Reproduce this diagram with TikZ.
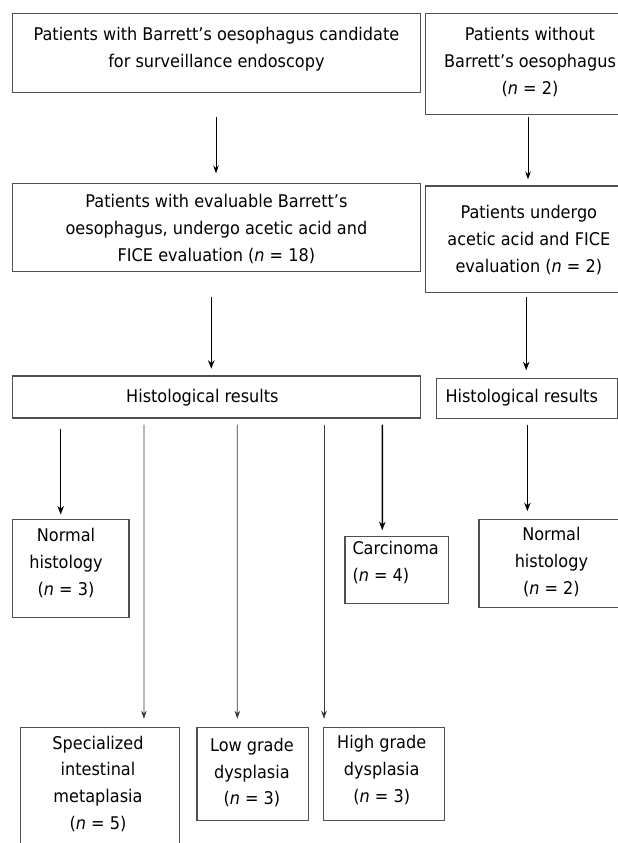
\documentclass[tikz,border=0pt]{standalone}
\usepackage{fontspec}
\setmainfont{DejaVu Sans}[FakeStretch=0.92]
\usetikzlibrary{arrows.meta,calc}
\definecolor{boxgray}{HTML}{505050}
\definecolor{linegray}{HTML}{383838}
\newcommand{\ctab}[1]{\begin{tabular}{@{}c@{}}#1\end{tabular}}
\newcommand{\ltab}[1]{\begin{tabular}{@{}l@{}}#1\end{tabular}}
\begin{document}
\begin{tikzpicture}[x=1pt,y=-1pt,
  box/.style n args={2}{draw=boxgray,line width=1.1pt,inner sep=0pt,minimum width=#1pt,minimum height=#2pt},
  txt/.style={inner sep=0pt,font=\fontsize{17.5}{26.7}\selectfont},
  arrthin/.style={draw=black,line width=0.8pt,-{Stealth[length=8pt,width=5.5pt]}},
  arrthick/.style={draw=black,line width=1.4pt,-{Stealth[length=8.5pt,width=6.5pt]}},
  arrgray/.style={draw=linegray,line width=0.7pt,-{Stealth[length=8pt,width=5.5pt]}}]
\useasboundingbox (0,0) rectangle (618,843);
% boxes
\node[box={407.6}{78.7}]  (b1)  at (216.4,52.7) {};
\node[box={209.7}{101.4}] (b2)  at (530.1,64) {};
\node[box={407.6}{88.4}]  (b3)  at (216.4,227.5) {};
\node[box={206.7}{106.7}] (b4)  at (528.7,239.3) {};
\node[box={407.6}{42}]    (b5)  at (216.4,397) {};
\node[box={181.3}{39.7}]  (b6)  at (526.7,398.2) {};
\node[box={116.3}{98.4}]  (n1)  at (70.8,568.5) {};
\node[box={103.7}{67.3}]  (ca)  at (396.8,569.7) {};
\node[box={145}{88}]      (n2)  at (551.5,563.3) {};
\node[box={159.2}{132.3}] (sim) at (100.1,793.9) {};
\node[box={111.2}{92.6}]  (lgd) at (252.6,774) {};
\node[box={121.2}{92.6}]  (hgd) at (384.2,774) {};
% texts
\node[txt] (t1) at ($(b1.center)+(0,-3.7)$) {\ctab{Patients with Barrett’s oesophagus candidate\\for surveillance endoscopy}};
\node[txt] (t2) at ($(b2.center)+(-0.1,-1.8)$) {\ctab{Patients without\\Barrett’s oesophagus\\(\textit{n} = 2)}};
\node[txt] (t3) at ($(b3.center)+(0,1.5)$) {\ctab{Patients with evaluable Barrett’s\\oesophagus, undergo acetic acid and\\FICE evaluation (\textit{n} = 18)}};
\node[txt] (t4) at ($(b4.center)+(0.1,0.7)$) {\ctab{Patients undergo\\acetic acid and FICE\\evaluation (\textit{n} = 2)}};
\node[txt] (t5) at ($(b5.center)+(-14,-0.3)$) {\ctab{Histological results}};
\node[txt] (t6) at ($(b6.center)+(-5,-1.2)$) {\ctab{Histological results}};
\node[txt] (tn1) at ($(n1.center)+(-4.8,-5.2)$) {\ctab{Normal\\histology\\(\textit{n} = 3)}};
\node[txt,anchor=west] (tca) at ($(ca.west)+(7.9,-6.7)$) {\ltab{Carcinoma\\(\textit{n} = 4)}};
\node[txt] (tn2) at ($(n2.center)+(-0.1,-1.3)$) {\ctab{Normal\\histology\\(\textit{n} = 2)}};
\node[txt] (tsim) at ($(sim.center)+(-2.1,-9.9)$) {\ctab{Specialized\\intestinal\\metaplasia\\(\textit{n} = 5)}};
\node[txt] (tlgd) at ($(lgd.center)+(-0.7,-1.1)$) {\ctab{Low grade\\dysplasia\\(\textit{n} = 3)}};
\node[txt] (thgd) at ($(hgd.center)+(-2.5,-4)$) {\ctab{High grade\\dysplasia\\(\textit{n} = 3)}};
% connectors
\draw[arrthin]  ($(b1.south)+(-0.4,24.7)$) -- ($(b3.north)+(-0.4,-9.3)$);
\draw[arrthin]  ($(b2.south)+(-2.1,2)$) -- ($(b4.north)+(-0.7,-6)$);
\draw[arrthick] ($(b3.south)+(-5.1,24.3)$) -- ($(b5.north)+(-5.1,-6.7)$);
\draw[arrthick] ($(b4.south)+(-2.5,3.3)$) -- ($(b6.north)+(-0.5,-7.6)$);
\draw[arrthick] ($(b5.south)+(-155.7,10)$) -- ($(n1.north)+(-10.1,-4.3)$);
\draw[arrgray]  ($(b5.south)+(-72.5,6)$) -- ($(sim.north)+(43.8,-8.4)$);
\draw[arrgray]  ($(b5.south)+(20.9,6)$) -- ($(lgd.north)+(-15.3,-8.4)$);
\draw[arrgray]  ($(b5.south)+(107.6,6)$) -- ($(hgd.north)+(-60.2,-8.4)$);
\draw[arrthick] ($(b5.south)+(165.9,6)$) -- ($(ca.north)+(-14.5,-5.3)$);
\draw[arrthick] ($(b6.south)+(0.7,6)$) -- ($(n2.north)+(-24.1,-7.6)$);
\end{tikzpicture}
\end{document}
